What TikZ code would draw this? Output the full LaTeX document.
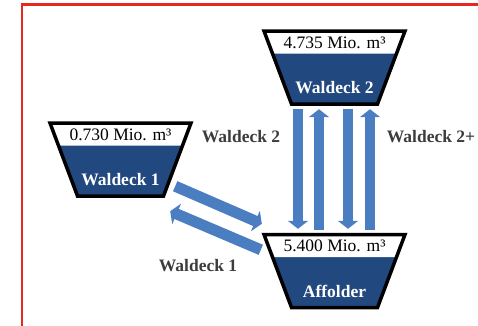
\documentclass[tikz,border=0pt]{standalone}
\usepackage{fontspec}
\setmainfont{Liberation Serif}
\usepackage{tikz}
\usetikzlibrary{arrows.meta}
\definecolor{basinblue}{HTML}{22497F}
\definecolor{flowblue}{HTML}{4A7EC0}
\definecolor{framered}{HTML}{E8281E}
\definecolor{labelgray}{HTML}{3C3C3C}
\tikzset{
  every picture/.style={x=1pt, y=-1pt, line join=miter},
  basinline/.style={line width=3.5pt, black},
  basinbox/.style={draw=none, rectangle, inner sep=0pt, minimum width=145pt, minimum height=77pt},
  volume/.style={font=\fontsize{17.5}{20}\selectfont, anchor=base, inner sep=0pt},
  basinname/.style={font=\fontsize{17.5}{20}\selectfont\bfseries, white, anchor=base, inner sep=0pt},
  flowlabel/.style={font=\fontsize{17.5}{20}\selectfont\bfseries, labelgray},
  flow/.style={flowblue, line width=10pt, -{Triangle[width=20pt,length=8pt]}},
  sideflow/.style={flowblue, line width=11pt, -{Triangle[width=22pt,length=7pt]}},
  frame/.style={framered, line width=2.5pt},
}
% one basin: name, centre, volume, label
\newcommand{\basin}[4]{%
  \begin{scope}[shift={#2}]
    \fill[basinblue] (-70.5,-36.5) -- (70.5,-36.5) -- (43,36.5) -- (-43,36.5) -- cycle;
    \fill[white] (-70.5,-36.5) -- (70.5,-36.5) -- (62,-14) -- (-62,-14) -- cycle;
    \draw[basinline] (-70.5,-36.5) -- (70.5,-36.5) -- (43,36.5) -- (-43,36.5) -- cycle;
    \node[volume] (#1-vol) at (0,-19.5) {#3};
    \node[basinname] (#1-name) at (0,26) {#4};
  \end{scope}
  \node[basinbox] (#1) at #2 {};
}

\begin{document}
\begin{tikzpicture}
\useasboundingbox (0,0) rectangle (478,325);
\clip (0,0) rectangle (478,325);
\draw[frame] (22,4.5) rectangle (500,340);

\basin{w2}{(334.5,67.5)}{4.735 Mio. m³}{Waldeck 2}
\basin{w1}{(120.5,159.5)}{0.730 Mio. m³}{Waldeck 1}
\basin{aff}{(334.5,271)}{5.400 Mio. m³}{Affolder}

% vertical flows
\draw[flow] ([shift={(-36.5,3)}]w2.south) -- ([shift={(-36.5,-3.5)}]aff.north);
\draw[flow] ([shift={(-15.5,-2.5)}]aff.north) -- ([shift={(-15.5,3)}]w2.south);
\draw[flow] ([shift={(13.5,3)}]w2.south) -- ([shift={(13.5,-3.5)}]aff.north);
\draw[flow] ([shift={(35.5,-2.5)}]aff.north) -- ([shift={(35.5,3)}]w2.south);

% side flows
\draw[sideflow] ([shift={(-18,-12)}]w1.south east) -- ([shift={(0,-8.5)}]aff.north west);
\draw[sideflow] ([shift={(-1,17.5)}]aff.north west) -- ([shift={(-23,13)}]w1.south east);

\node[flowlabel] (lab-w2) at (241,137) {Waldeck 2};
\node[flowlabel] (lab-w2p) at (431,137) {Waldeck 2+};
\node[flowlabel] (lab-w1) at (198,266) {Waldeck 1};
\end{tikzpicture}
\end{document}
